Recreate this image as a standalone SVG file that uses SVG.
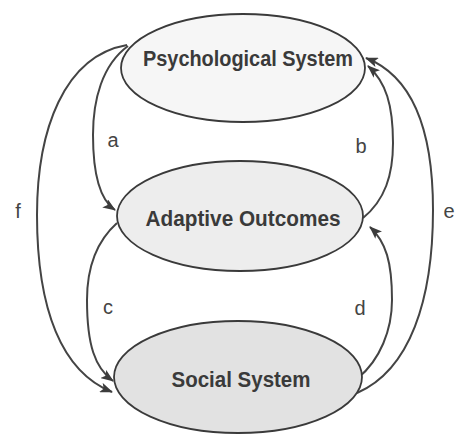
<svg xmlns="http://www.w3.org/2000/svg" width="461" height="436" viewBox="0 0 461 436">
  <defs>
    <marker id="arrow" viewBox="0 0 13 10" refX="12" refY="5" markerWidth="13" markerHeight="10" markerUnits="userSpaceOnUse" orient="auto">
      <path d="M0,0 L13,5 L0,10 L3,5 Z" fill="#3c3c3c"/>
    </marker>
  </defs>
  <style>
    .node ellipse { stroke: #3a3a3a; stroke-width: 1.8; }
    .node text { font-family: "Liberation Sans", Arial, sans-serif; font-weight: bold; font-size: 22px; fill: #3a3a3a; text-anchor: middle; }
    .edges path { fill: none; stroke: #444; stroke-width: 2; marker-end: url(#arrow); }
    .label { font-family: "Liberation Sans", Arial, sans-serif; font-size: 20px; fill: #444; text-anchor: middle; }
  </style>
  <rect width="461" height="436" fill="#ffffff"/>

  <g id="connectors" class="edges">
    <!-- f: Psychological -> Social (outer left) -->
    <path d="M127,45 C64,56 37,130 37,215 C37,310 62,372 112,392"/>
    <!-- a: Psychological -> Adaptive -->
    <path d="M128,46 C102,65 93,100 93,135 C93,175 100,200 115,210"/>
    <!-- c: Adaptive -> Social -->
    <path d="M117,223 C98,240 87,265 87,300 C87,345 95,368 113,381"/>
    <!-- d: Social -> Adaptive -->
    <path d="M358,378 C380,360 392,330 392,300 C392,262 386,242 370,227"/>
    <!-- b: Adaptive -> Psychological -->
    <path d="M363,218 C385,200 393,175 393,143 C393,105 386,82 368,66"/>
    <!-- e: Social -> Psychological (outer right) -->
    <path d="M357,393 C410,370 433,300 433,210 C433,130 412,76 366,58"/>
  </g>

  <g id="psychological-system" class="node">
    <ellipse cx="243" cy="68" rx="122" ry="54" fill="#f6f6f6"/>
    <text x="248" y="66" textLength="210" lengthAdjust="spacingAndGlyphs">Psychological System</text>
  </g>
  <g id="adaptive-outcomes" class="node">
    <ellipse cx="240" cy="216" rx="123" ry="55" fill="#ededed"/>
    <text x="243" y="226" textLength="195" lengthAdjust="spacingAndGlyphs">Adaptive Outcomes</text>
  </g>
  <g id="social-system" class="node">
    <ellipse cx="238" cy="377" rx="124" ry="56" fill="#e2e2e2"/>
    <text x="241" y="387" textLength="139" lengthAdjust="spacingAndGlyphs">Social System</text>
  </g>

  <g id="labels">
    <text class="label" x="113" y="147">a</text>
    <text class="label" x="361" y="153">b</text>
    <text class="label" x="108" y="314">c</text>
    <text class="label" x="360" y="315">d</text>
    <text class="label" x="449" y="218">e</text>
    <text class="label" x="18" y="218">f</text>
  </g>
</svg>
